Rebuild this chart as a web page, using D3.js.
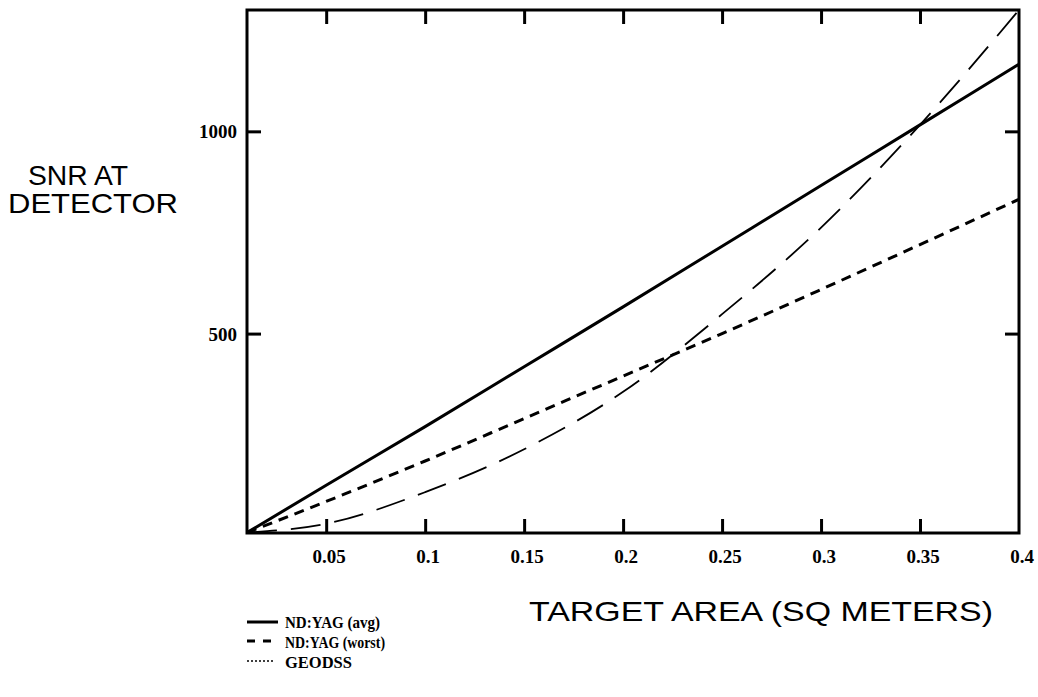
<!DOCTYPE html>
<html>
<head>
<meta charset="utf-8">
<script src="https://cdn.jsdelivr.net/npm/d3@7"></script>
<style>
  html, body { margin: 0; padding: 0; background: #fff; }
  svg { display: block; }
</style>
</head>
<body>
<svg id="chart" width="1038" height="697"></svg>
<script>
// Target area (square meters) sampled along the x axis
const areas = [0.01, 0.05, 0.10, 0.15, 0.20, 0.25, 0.30, 0.35, 0.40];
// SNR at detector for each system
const ndyagAvg   = [8, 125, 270, 418, 566, 716, 866, 1016, 1166];
const ndyagWorst = [8,  85, 185, 290, 395, 500, 609,  720,  832];
const geodss     = [8,  30, 108, 214, 356, 548, 762, 1016, 1300];

const xTicks = [0.05, 0.1, 0.15, 0.2, 0.25, 0.3, 0.35, 0.4];
const xTickLabels = ["0.05", "0.1", "0.15", "0.2", "0.25", "0.3", "0.35", "0.4"];
const yTicks = [500, 1000];
const yTickLabels = ["500", "1000"];

const legendLabels = ["ND:YAG (avg)", "ND:YAG (worst)", "GEODSS"];

const svg = d3.select("#chart");
const m = { left: 247, top: 10, right: 1019, bottom: 533 };

const x = d3.scaleLinear().domain([0.01, 0.4]).range([m.left, m.right]);
const y = d3.scaleLinear().domain([7, 1300]).range([m.bottom, m.top]);

const ink = "#000";
const serif = "'Liberation Serif', 'Times New Roman', serif";
const sans = "'Liberation Sans', Arial, sans-serif";

// Curves
const series = [
  { values: ndyagAvg,   width: 3,   dash: null },
  { values: ndyagWorst, width: 3,   dash: "10,7" },
  { values: geodss,     width: 1.8, dash: "30,14" }
];
const line = d3.line()
  .x(d => x(d[0]))
  .y(d => y(d[1]))
  .curve(d3.curveMonotoneX);

svg.append("clipPath").attr("id", "plotclip")
  .append("rect")
  .attr("x", m.left).attr("y", m.top)
  .attr("width", m.right - m.left).attr("height", m.bottom - m.top);

const plot = svg.append("g").attr("clip-path", "url(#plotclip)");
series.forEach(s => {
  plot.append("path")
    .datum(areas.map((a, i) => [a, s.values[i]]))
    .attr("d", line)
    .attr("fill", "none")
    .attr("stroke", ink)
    .attr("stroke-width", s.width)
    .attr("stroke-dasharray", s.dash);
});

// Inward-pointing ticks on all four sides
const tickLen = 14;
const styleAxis = g => {
  g.select(".domain").remove();
  g.selectAll(".tick line").attr("stroke", ink).attr("stroke-width", 3);
};

svg.append("g")
  .attr("transform", `translate(0,${m.bottom})`)
  .call(d3.axisBottom(x).tickValues(xTicks.slice(0, -1)).tickSize(-tickLen).tickFormat(""))
  .call(styleAxis);
svg.append("g")
  .attr("transform", `translate(0,${m.top})`)
  .call(d3.axisTop(x).tickValues(xTicks.slice(0, -1)).tickSize(-tickLen).tickFormat(""))
  .call(styleAxis);
svg.append("g")
  .attr("transform", `translate(${m.left},0)`)
  .call(d3.axisLeft(y).tickValues(yTicks).tickSize(-tickLen).tickFormat(""))
  .call(styleAxis);
svg.append("g")
  .attr("transform", `translate(${m.right},0)`)
  .call(d3.axisRight(y).tickValues(yTicks).tickSize(-tickLen).tickFormat(""))
  .call(styleAxis);

// Frame
svg.append("rect")
  .attr("x", m.left).attr("y", m.top)
  .attr("width", m.right - m.left).attr("height", m.bottom - m.top)
  .attr("fill", "none").attr("stroke", ink).attr("stroke-width", 3);

// Tick labels
svg.append("g").selectAll("text")
  .data(xTicks)
  .join("text")
  .attr("x", d => x(d) + 3)
  .attr("y", 563)
  .attr("text-anchor", "middle")
  .attr("font-family", serif)
  .attr("font-weight", "bold")
  .attr("font-size", 19)
  .text((d, i) => xTickLabels[i]);

svg.append("g").selectAll("text")
  .data(yTicks)
  .join("text")
  .attr("x", 237)
  .attr("y", d => y(d) + 7)
  .attr("text-anchor", "end")
  .attr("font-family", serif)
  .attr("font-weight", "bold")
  .attr("font-size", 19)
  .text((d, i) => yTickLabels[i]);

// Axis titles
const yTitle = svg.append("g")
  .attr("font-family", sans)
  .attr("font-size", 28)
  .attr("fill", ink);
yTitle.append("text").attr("x", 28).attr("y", 185)
  .attr("textLength", 100).attr("lengthAdjust", "spacingAndGlyphs").text("SNR AT");
yTitle.append("text").attr("x", 8).attr("y", 213)
  .attr("textLength", 170).attr("lengthAdjust", "spacingAndGlyphs").text("DETECTOR");

svg.append("text")
  .attr("x", 529).attr("y", 621)
  .attr("font-family", sans)
  .attr("font-size", 28)
  .attr("textLength", 464).attr("lengthAdjust", "spacingAndGlyphs")
  .text("TARGET AREA (SQ METERS)");

// Legend
const legendRows = [
  { y: 622, base: 628, width: 3,   dash: null,  x2: 278, textW: 95 },
  { y: 641, base: 648, width: 3,   dash: "8,8", x2: 278, textW: 100 },
  { y: 661, base: 668, width: 1.5, dash: "2,2", x2: 274, textW: 67 }
];
const legend = svg.append("g");
legendRows.forEach((r, i) => {
  legend.append("line")
    .attr("x1", 247).attr("x2", r.x2)
    .attr("y1", r.y).attr("y2", r.y)
    .attr("stroke", ink)
    .attr("stroke-width", r.width)
    .attr("stroke-dasharray", r.dash);
  legend.append("text")
    .attr("x", 285).attr("y", r.base)
    .attr("font-family", serif)
    .attr("font-weight", "bold")
    .attr("font-size", 17)
    .attr("textLength", r.textW).attr("lengthAdjust", "spacingAndGlyphs")
    .text(legendLabels[i]);
});
</script>
</body>
</html>
